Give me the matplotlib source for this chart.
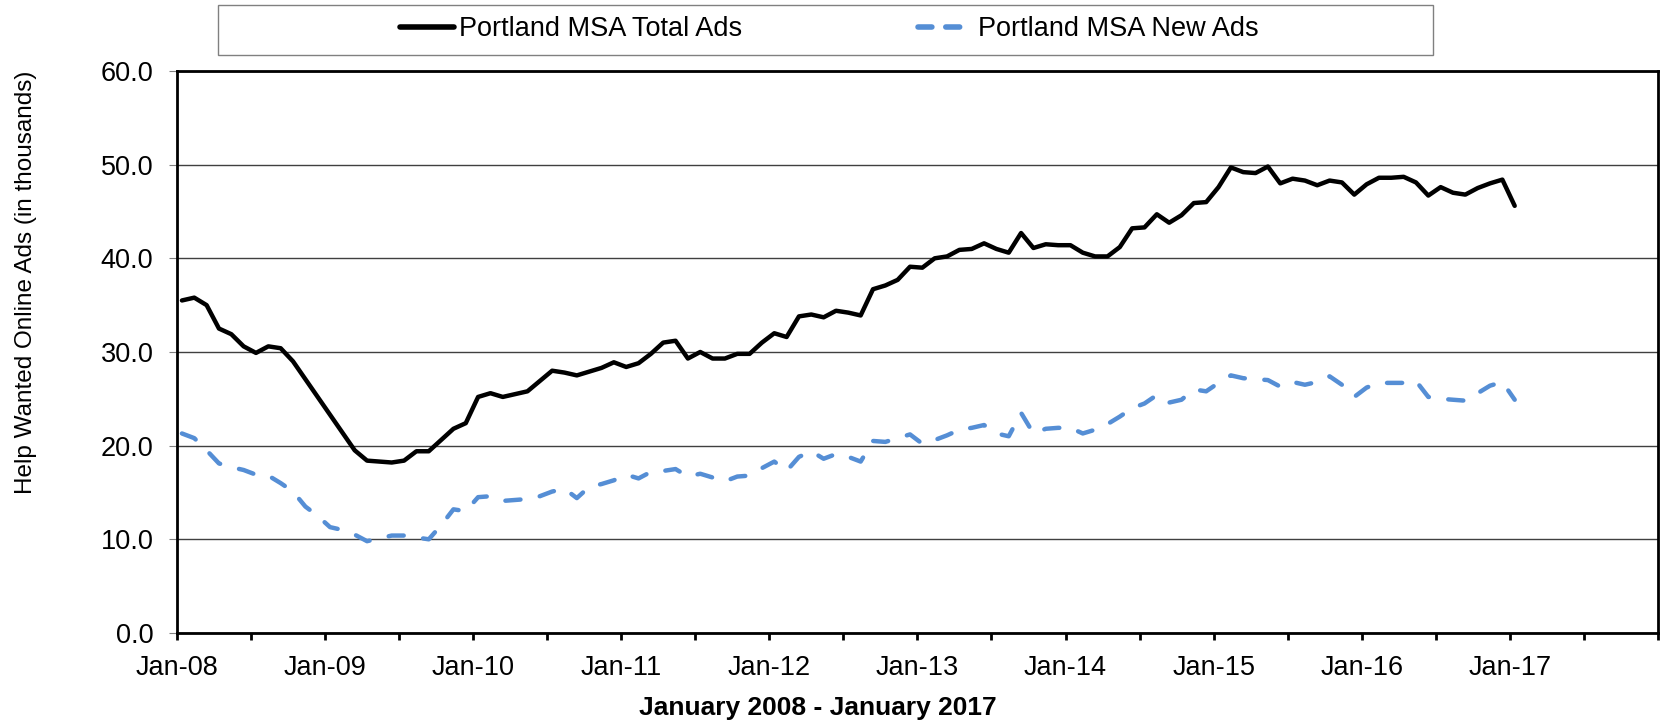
import numpy as np
import matplotlib
matplotlib.use("Agg")
import matplotlib.pyplot as plt
from matplotlib.lines import Line2D
from matplotlib.patches import Rectangle

plt.rcParams['font.family'] = ['Liberation Sans', 'DejaVu Sans']

# monthly values, Jan-08 .. Jan-17 (thousands of ads)
total_ads = [
    35.5, 35.8, 35.0, 32.5, 31.9, 30.6, 29.9, 30.6, 30.4, 29.0,
    27.1, 25.2, 23.3, 21.4, 19.5, 18.4, 18.3, 18.2, 18.4, 19.4,
    19.4, 20.6, 21.8, 22.4, 25.2, 25.6, 25.2, 25.5, 25.8, 26.9,
    28.0, 27.8, 27.5, 27.9, 28.3, 28.9, 28.4, 28.8, 29.8, 31.0,
    31.2, 29.3, 30.0, 29.3, 29.3, 29.8, 29.8, 31.0, 32.0, 31.6,
    33.8, 34.0, 33.7, 34.4, 34.2, 33.9, 36.7, 37.1, 37.7, 39.1,
    39.0, 40.0, 40.2, 40.9, 41.0, 41.6, 41.0, 40.6, 42.7, 41.1,
    41.5, 41.4, 41.4, 40.6, 40.2, 40.2, 41.2, 43.2, 43.3, 44.7,
    43.8, 44.6, 45.9, 46.0, 47.6, 49.7, 49.2, 49.1, 49.8, 48.0,
    48.5, 48.3, 47.8, 48.3, 48.1, 46.8, 47.9, 48.6, 48.6, 48.7,
    48.1, 46.7, 47.6, 47.0, 46.8, 47.5, 48.0, 48.4, 45.6,
]
new_ads = [
    21.3, 20.8, 19.5, 18.1, 17.7, 17.4, 16.9, 16.8, 16.0, 15.1,
    13.5, 12.5, 11.3, 11.0, 10.5, 9.8, 10.1, 10.4, 10.4, 10.2,
    10.0, 11.5, 13.2, 13.0, 14.5, 14.6, 14.1, 14.2, 14.3, 14.6,
    15.1, 15.4, 14.4, 15.6, 15.9, 16.3, 16.9, 16.5, 17.2, 17.3,
    17.5, 16.7, 17.0, 16.6, 16.2, 16.7, 16.8, 17.6, 18.3, 17.3,
    18.8, 19.4, 18.6, 19.1, 18.8, 18.3, 20.5, 20.4, 20.8, 21.2,
    20.2, 20.6, 21.1, 21.7, 21.9, 22.2, 21.3, 21.0, 23.5, 21.3,
    21.8, 21.9, 21.9, 21.3, 21.7, 22.3, 23.1, 24.0, 24.5, 25.4,
    24.6, 24.9, 26.0, 25.8, 26.7, 27.5, 27.2, 27.1, 27.0, 26.3,
    26.8, 26.5, 26.8, 27.4, 26.5, 25.2, 26.2, 26.7, 26.7, 26.7,
    26.9, 25.2, 25.0, 24.9, 24.8, 25.6, 26.4, 26.8, 24.9,
]
tick_years = ['08', '09', '10', '11', '12', '13', '14', '15', '16', '17']
y_ticks = [0, 10, 20, 30, 40, 50, 60]

blue = '#558ED5'

fig = plt.figure(figsize=(16.62, 7.22), dpi=100)
ax = fig.add_axes([0.1065, 0.1233, 0.891, 0.7784])

# x in months since Jan-08, points sit a bit right of the month tick
x = np.arange(len(total_ads)) + 0.4
ax.plot(x, total_ads, color='black', lw=3.2, solid_joinstyle='round',
        solid_capstyle='round', zorder=3)
ax.plot(x, new_ads, color=blue, lw=3.2, dashes=(3.4, 4.4),
        dash_capstyle='round', dash_joinstyle='round', zorder=3)

ax.set_xlim(0, 120)
ax.set_ylim(0, 60)

xt = np.arange(0, 121, 6)
xl = []
for t in xt:
    if t % 12 == 0 and t // 12 < len(tick_years):
        xl.append('Jan-' + tick_years[t // 12])
    else:
        xl.append('')
ax.set_xticks(xt)
ax.set_xticklabels(xl, fontsize=19.5)
ax.set_yticks(y_ticks)
ax.set_yticklabels(['%.1f' % v for v in y_ticks], fontsize=19.5)

ax.tick_params(axis='x', direction='out', length=5, width=2, color='black', pad=11)
ax.tick_params(axis='y', direction='out', length=6, width=0.8, color='#808080', pad=11)

for s in ax.spines.values():
    s.set_linewidth(2)
    s.set_color('black')

ax.yaxis.grid(True, color='#404040', lw=1)
ax.set_axisbelow(True)

fig.text(26 / 1662, 1 - 282 / 722, 'Help Wanted Online Ads (in thousands)',
         rotation=90, ha='center', va='center', fontsize=17.5)
fig.text(818 / 1662, 1 - 715 / 722, 'January 2008 - January 2017',
         ha='center', va='baseline', fontsize=19, fontweight='bold')

# legend box across the top
fig.patches.append(Rectangle((218 / 1662, 1 - 55 / 722), 1215 / 1662, 50 / 722,
                             transform=fig.transFigure, fill=False,
                             edgecolor='#808080', lw=1))
handles = [Line2D([], [], color='black', lw=4, solid_capstyle='round'),
           Line2D([], [], color=blue, lw=4, dashes=(2.5, 2.5), dash_capstyle='round')]
fig.legend(handles, ['Portland MSA Total Ads', 'Portland MSA New Ads'],
           loc='center', bbox_to_anchor=(829 / 1662, 1 - 29 / 722), ncol=2,
           frameon=False, fontsize=19.5, handlelength=2.0, handletextpad=0.2,
           columnspacing=6.5)

fig.savefig('out.png', dpi=100)
